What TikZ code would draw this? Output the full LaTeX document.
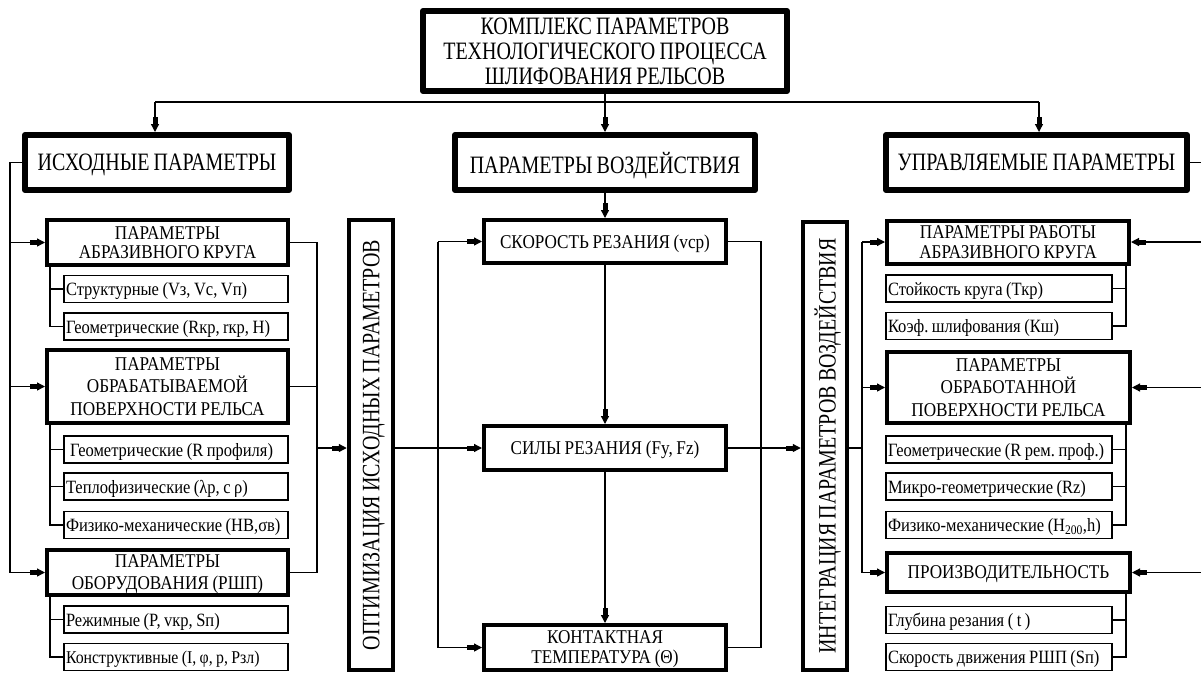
\documentclass[tikz,border=0pt]{standalone}
\usepackage{fontspec}
\setmainfont{Liberation Serif}[FakeStretch=0.8,WordSpace=0.85]
\newfontfamily\fmid{Liberation Serif}[FakeStretch=0.88,WordSpace=0.85]
\usetikzlibrary{arrows.meta}
% caps-centred one-line text, multi-line text
\newcommand{\cc}[1]{\raisebox{0pt}[\height][0pt]{#1}}
\newcommand{\ml}[2][0pt]{\raisebox{0pt}[\height][#1]{\vbox{\halign{\hfil##\hfil\cr#2\crcr}}}}
\newcommand{\lsubtxt}[1]{\makebox[220pt][l]{\cc{#1}}}
\newcommand{\rsubtxt}[1]{\makebox[222pt][l]{\cc{#1}}}
\begin{document}
\frenchspacing
\begin{tikzpicture}[x=1pt,y=-1pt,
  ln/.style={line width=1.3pt},
  arr/.style={ln,-{Rectangle[length=7pt,width=5pt]Triangle[length=8pt,width=8pt]}},
  hbox/.style={draw,line width=6pt,inner sep=0pt,line join=round,font=\fontsize{25}{25}\selectfont},
  mbox/.style={draw,line width=4pt,inner sep=0pt,font=\fmid\fontsize{19.5}{20}\selectfont},
  vbox/.style={draw,line width=4.5pt,inner sep=0pt,minimum width=44pt,font=\fontsize{25}{26}\selectfont},
  lsub/.style={draw,line width=1.3pt,inner sep=0pt,inner xsep=2pt,minimum width=224pt,minimum height=27pt,font=\fmid\fontsize{18.75}{20}\selectfont},
  rsub/.style={lsub,minimum width=226pt},
]
\useasboundingbox (0,0) rectangle (1201,673);
% x and y positions of connector lines
\coordinate (xL0) at (10,0);
\coordinate (xL1) at (50,0);
\coordinate (xL2) at (317,0);
\coordinate (xI) at (155,0);
\coordinate (xU) at (1039,0);
\coordinate (xC1) at (438,0);
\coordinate (xC2) at (761,0);
\coordinate (xR1) at (862,0);
\coordinate (xR2) at (1126,0);
\coordinate (xR3) at (1205,0);
\coordinate (yBus) at (0,102);
\coordinate (yM) at (0,448);

% header boxes
\node[hbox,minimum width=364pt,minimum height=80pt] (top) at (605,51) {\ml[-6pt]{КОМПЛЕКС ПАРАМЕТРОВ\cr ТЕХНОЛОГИЧЕСКОГО ПРОЦЕССА\cr ШЛИФОВАНИЯ РЕЛЬСОВ}};
\node[hbox,minimum width=264pt,minimum height=55pt] (isx) at (157,162.5) {\cc{ИСХОДНЫЕ ПАРАМЕТРЫ}};
\node[hbox,minimum width=300pt,minimum height=55pt] (vozd) at (605,162.5) {\cc{ПАРАМЕТРЫ ВОЗДЕЙСТВИЯ}};
\node[hbox,minimum width=301pt,minimum height=55pt] (upr) at (1036.5,162.5) {\cc{УПРАВЛЯЕМЫЕ ПАРАМЕТРЫ}};

% left column
\node[mbox,minimum width=241pt,minimum height=45pt,font=\fmid\fontsize{19.5}{19.5}\selectfont] (abr) at (167.5,242.5) {\ml{ПАРАМЕТРЫ\cr АБРАЗИВНОГО КРУГА}};
\node[lsub] (s1) at (176,289) {\lsubtxt{Структурные (Vз, Vс, Vп)}};
\node[lsub] (s2) at (176,326.5) {\lsubtxt{Геометрические (Rкр, rкр, H)}};
\node[mbox,minimum width=241pt,minimum height=73pt,font=\fmid\fontsize{19.5}{22.5}\selectfont] (obr) at (167.5,386.5) {\ml{ПАРАМЕТРЫ\cr ОБРАБАТЫВАЕМОЙ\cr ПОВЕРХНОСТИ РЕЛЬСА}};
\node[lsub] (s3) at (176,449.5) {\lsubtxt{\hspace{4pt}Геометрические (R профиля)}};
\node[lsub] (s4) at (176,486.5) {\lsubtxt{Теплофизические (λр, с ρ)}};
\node[lsub] (s5) at (176,525) {\lsubtxt{Физико-механические (HB,σв)}};
\node[mbox,minimum width=241pt,minimum height=45pt,font=\fmid\fontsize{19.5}{22}\selectfont] (obo) at (167.5,572.5) {\ml{ПАРАМЕТРЫ\cr ОБОРУДОВАНИЯ (РШП)}};
\node[lsub] (s6) at (176,619.5) {\lsubtxt{Режимные (P, vкр, Sп)}};
\node[lsub,font=\fmid\fontsize{18}{20}\selectfont] (s7) at (176,657) {\lsubtxt{Конструктивные (I, φ, р, Рзл)}};

% vertical boxes
\node[vbox,minimum height=450pt] (opt) at (371,445) {\rotatebox{90}{\cc{ОПТИМИЗАЦИЯ ИСХОДНЫХ ПАРАМЕТРОВ}}};
\node[vbox,minimum height=448pt] (integ) at (825,446) {\rotatebox{90}{\cc{ИНТЕГРАЦИЯ ПАРАМЕТРОВ ВОЗДЕЙСТВИЯ}}};

% middle column
\node[mbox,minimum width=242pt,minimum height=43pt] (skor) at (605,241.5) {\cc{СКОРОСТЬ РЕЗАНИЯ (vср)}};
\node[mbox,minimum width=242pt,minimum height=44pt] (sily) at (605,448) {\cc{СИЛЫ РЕЗАНИЯ (Fy, Fz)}};
\node[mbox,minimum width=242pt,minimum height=45pt] (kont) at (605,647.5) {\ml{КОНТАКТНАЯ\cr ТЕМПЕРАТУРА (Θ)}};

% right column
\node[mbox,minimum width=242pt,minimum height=43pt,font=\fmid\fontsize{19.5}{19.5}\selectfont] (rab) at (1008,242) {\ml{ПАРАМЕТРЫ РАБОТЫ\cr АБРАЗИВНОГО КРУГА}};
\node[rsub] (r1) at (999,288.5) {\rsubtxt{Стойкость круга (Ткр)}};
\node[rsub] (r2) at (999,326) {\rsubtxt{Коэф. шлифования (Кш)}};
\node[mbox,minimum width=243pt,minimum height=71pt,font=\fmid\fontsize{19.5}{22.5}\selectfont] (obt) at (1008.5,387.5) {\ml{ПАРАМЕТРЫ\cr ОБРАБОТАННОЙ\cr ПОВЕРХНОСТИ РЕЛЬСА}};
\node[rsub] (r3) at (999,449.5) {\rsubtxt{Геометрические (R рем. проф.)}};
\node[rsub] (r4) at (999,486.5) {\rsubtxt{Микро-геометрические (Rz)}};
\node[rsub] (r5) at (999,525) {\rsubtxt{Физико-механические (H\textsubscript{200},h)}};
\node[mbox,minimum width=243pt,minimum height=39pt] (pro) at (1008.5,572.5) {\cc{ПРОИЗВОДИТЕЛЬНОСТЬ}};
\node[rsub] (r6) at (999,620) {\rsubtxt{Глубина резания ( t )}};
\node[rsub] (r7) at (999,657) {\rsubtxt{Скорость движения РШП (Sп)}};

% top bus
\draw[arr] (top.south) -- (vozd.north);
\draw[ln] (xI |- yBus) -- (xU |- yBus);
\draw[arr] (xI |- yBus) -- (xI |- isx.north);
\draw[arr] (xU |- yBus) -- (xU |- upr.north);

% left side
\draw[ln] (isx.west) -| (xL0 |- obo.west);
\draw[arr] (xL0 |- abr.west) -- (abr.west);
\draw[arr] (xL0 |- obr.west) -- (obr.west);
\draw[arr] (xL0 |- obo.west) -- (obo.west);
\draw[ln] (abr.south -| xL1) |- (s1.west);
\draw[ln] (abr.south -| xL1) |- (s2.west);
\draw[ln] (obr.south -| xL1) |- (s3.west);
\draw[ln] (obr.south -| xL1) |- (s4.west);
\draw[ln] (obr.south -| xL1) |- (s5.west);
\draw[ln] (obo.south -| xL1) |- (s6.west);
\draw[ln] (obo.south -| xL1) |- (s7.west);
\draw[ln] (abr.east) -| (xL2 |- obo.east) -- (obo.east);
\draw[ln] (obr.east) -- (xL2 |- obr.east);
\draw[arr] (xL2 |- yM) -- (yM -| opt.west);

% middle
\draw[arr] (vozd.south) -- (skor.north);
\draw[arr] (skor.south) -- (sily.north);
\draw[arr] (sily.south) -- (kont.north);
\draw[arr] (opt.east |- yM) -- (sily.west);
\draw[ln] (xC1 |- skor.west) -- (xC1 |- kont.west);
\draw[arr] (xC1 |- skor.west) -- (skor.west);
\draw[arr] (xC1 |- kont.west) -- (kont.west);
\draw[ln] (skor.east) -| (xC2 |- kont.east) -- (kont.east);
\draw[arr] (sily.east) -- (sily.east -| integ.west);

% right side
\draw[ln] (integ.east |- yM) -- (xR1 |- yM);
\draw[ln] (xR1 |- rab.west) -- (xR1 |- pro.west);
\draw[arr] (xR1 |- rab.west) -- (rab.west);
\draw[arr] (xR1 |- obt.west) -- (obt.west);
\draw[arr] (xR1 |- pro.west) -- (pro.west);
\draw[ln] (rab.south -| xR2) |- (r1.east);
\draw[ln] (rab.south -| xR2) |- (r2.east);
\draw[ln] (obt.south -| xR2) |- (r3.east);
\draw[ln] (obt.south -| xR2) |- (r4.east);
\draw[ln] (obt.south -| xR2) |- (r5.east);
\draw[ln] (pro.south -| xR2) |- (r6.east);
\draw[ln] (pro.south -| xR2) |- (r7.east);
\draw[ln] (upr.east) -| (xR3 |- pro.east);
\draw[arr] (xR3 |- rab.east) -- (rab.east);
\draw[arr] (xR3 |- obt.east) -- (obt.east);
\draw[arr] (xR3 |- pro.east) -- (pro.east);
\end{tikzpicture}
\end{document}
